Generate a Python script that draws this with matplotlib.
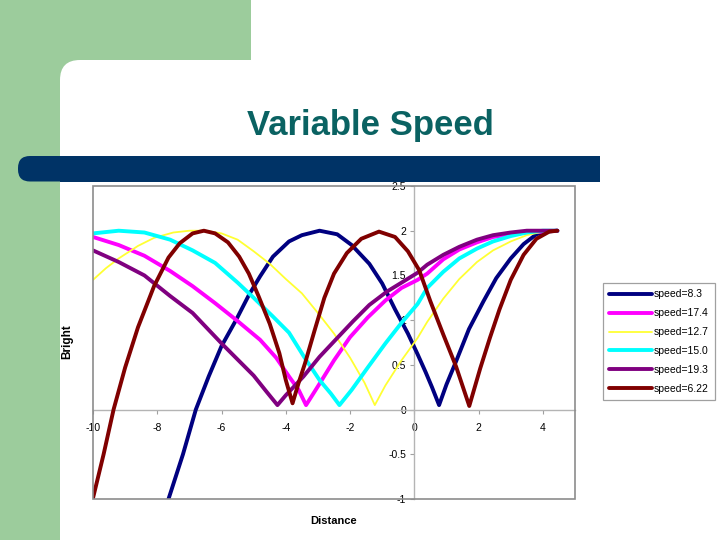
import matplotlib
matplotlib.use("Agg")
import matplotlib.pyplot as plt
from matplotlib.patches import Rectangle, FancyBboxPatch

plt.rcParams['font.family'] = ['Liberation Sans', 'DejaVu Sans']

# ---------------- data ----------------
labels = ["speed=8.3", "speed=17.4", "speed=12.7", "speed=15.0", "speed=19.3", "speed=6.22"]
colors = ["#000080", "#FF00FF", "#FFFF33", "#00FFFF", "#800080", "#800000"]
widths = [2.8, 2.8, 1.3, 2.8, 2.8, 2.8]

navy_x = [-7.65, -7.2, -6.8, -6.4, -6.0, -5.55, -5.15, -4.8, -4.4, -3.9, -3.5, -2.95, -2.4, -1.95,
          -1.4, -1.0, -0.6, -0.2, 0.1, 0.35, 0.55, 0.77, 1.0, 1.3, 1.7, 2.15, 2.55, 3.0, 3.4, 3.8, 4.1, 4.45]
navy_y = [-1.0, -0.5, 0.0, 0.37, 0.71, 1.0, 1.28, 1.49, 1.71, 1.88, 1.95, 2.0, 1.96, 1.84,
          1.63, 1.41, 1.12, 0.85, 0.62, 0.42, 0.25, 0.05, 0.28, 0.54, 0.9, 1.21, 1.47, 1.69, 1.85, 1.96, 1.99, 2.0]

magenta_x = [-10.0, -9.2, -8.4, -7.6, -6.9, -6.2, -5.5, -4.8, -4.3, -3.9, -3.6, -3.37, -3.0, -2.5,
             -2.0, -1.45, -0.9, -0.4, 0.1, 0.4, 0.9, 1.4, 1.95, 2.45, 3.0, 3.5, 4.0, 4.45]
magenta_y = [1.93, 1.84, 1.72, 1.55, 1.38, 1.19, 0.99, 0.78, 0.58, 0.37, 0.22, 0.05, 0.26, 0.55,
             0.81, 1.03, 1.22, 1.36, 1.45, 1.52, 1.68, 1.79, 1.87, 1.93, 1.96, 1.98, 1.99, 2.0]

yellow_x = [-10.0, -9.6, -9.2, -8.6, -8.1, -7.5, -7.0, -6.5, -6.0, -5.5, -5.0, -4.5, -4.0, -3.5, -3.0,
            -2.5, -2.0, -1.55, -1.23, -0.9, -0.4, 0.1, 0.4, 0.9, 1.4, 1.95, 2.45, 3.0, 3.5, 4.0, 4.45]
yellow_y = [1.45, 1.58, 1.69, 1.83, 1.92, 1.98, 2.0, 2.0, 1.97, 1.9, 1.77, 1.63, 1.46, 1.3, 1.08,
            0.85, 0.58, 0.3, 0.05, 0.27, 0.55, 0.8, 0.98, 1.24, 1.46, 1.65, 1.78, 1.88, 1.95, 1.99, 2.0]

cyan_x = [-10.0, -9.2, -8.4, -7.6, -6.9, -6.2, -5.5, -5.0, -4.4, -3.9, -3.45, -2.95, -2.6, -2.33,
          -1.95, -1.45, -0.9, -0.4, 0.1, 0.4, 0.9, 1.4, 1.95, 2.45, 3.0, 3.5, 4.0, 4.45]
cyan_y = [1.97, 2.0, 1.98, 1.9, 1.78, 1.64, 1.42, 1.25, 1.04, 0.86, 0.6, 0.33, 0.18, 0.05,
          0.22, 0.47, 0.74, 0.97, 1.18, 1.36, 1.54, 1.69, 1.8, 1.88, 1.94, 1.98, 2.0, 2.0]

purple_x = [-10.0, -9.2, -8.4, -7.6, -6.9, -6.0, -5.0, -4.6, -4.26, -4.0, -3.45, -2.95, -2.4, -1.9,
            -1.4, -0.85, -0.35, 0.1, 0.4, 0.9, 1.4, 1.95, 2.45, 3.0, 3.5, 4.0, 4.45]
purple_y = [1.78, 1.65, 1.5, 1.27, 1.08, 0.74, 0.38, 0.2, 0.05, 0.16, 0.37, 0.59, 0.8, 0.99,
            1.17, 1.32, 1.43, 1.53, 1.62, 1.73, 1.82, 1.9, 1.95, 1.98, 2.0, 2.0, 2.0]

darkred_x = [-10.0, -9.67, -9.36, -9.0, -8.6, -8.1, -7.65, -7.3, -6.9, -6.55, -6.2, -5.8, -5.45, -5.15,
             -4.85, -4.5, -4.2, -4.0, -3.79, -3.6, -3.4, -3.1, -2.8, -2.5, -2.1, -1.65, -1.1, -0.6,
             -0.2, 0.15, 0.5, 0.9, 1.3, 1.71, 2.05, 2.35, 2.65, 3.0, 3.4, 3.8, 4.2, 4.45]
darkred_y = [-0.99, -0.5, 0.0, 0.47, 0.92, 1.38, 1.7, 1.86, 1.97, 2.0, 1.97, 1.87, 1.71, 1.52,
             1.27, 0.96, 0.63, 0.33, 0.07, 0.3, 0.52, 0.89, 1.25, 1.52, 1.75, 1.91, 1.99, 1.93,
             1.77, 1.56, 1.21, 0.84, 0.48, 0.04, 0.46, 0.8, 1.12, 1.45, 1.73, 1.91, 1.99, 2.0]

series_x = [navy_x, magenta_x, yellow_x, cyan_x, purple_x, darkred_x]
series_y = [navy_y, magenta_y, yellow_y, cyan_y, purple_y, darkred_y]

x_ticks = [-10, -8, -6, -4, -2, 0, 2, 4]
y_ticks = [-1, -0.5, 0, 0.5, 1, 1.5, 2, 2.5]
y_ticklabels = ["-1", "-0.5", "0", "0.5", "1", "1.5", "2", "2.5"]

# ---------------- figure / slide background ----------------
W, H = 720, 540
fig = plt.figure(figsize=(7.2, 5.4), dpi=100)
bg = fig.add_axes([0, 0, 1, 1], zorder=0)
bg.set_xlim(0, W)
bg.set_ylim(H, 0)
bg.axis("off")

green = "#9CCC9C"
bg.add_patch(Rectangle((0, 0), 251, H, facecolor=green, edgecolor="none"))
bg.add_patch(FancyBboxPatch((60, 60), 720, 540, boxstyle="round,pad=0,rounding_size=20",
                            facecolor="white", edgecolor="none"))
bar_col = "#003366"
bg.add_patch(FancyBboxPatch((18, 156), 582, 25.5, boxstyle="round,pad=0,rounding_size=12",
                            facecolor=bar_col, edgecolor="none"))
bg.add_patch(Rectangle((60, 156), 540, 25.5, facecolor=bar_col, edgecolor="none"))

bg.text(370, 135, "Variable Speed", fontsize=25, fontweight="bold", color="#0A6262",
        ha="center", va="baseline")

# ---------------- chart ----------------
L, R, T, B = 93, 575, 186, 499
ax = fig.add_axes([L / W, 1 - B / H, (R - L) / W, (B - T) / H], zorder=1)
ax.set_facecolor("white")

handles = []
for xs, ys, c, lw, lab in zip(series_x, series_y, colors, widths, labels):
    h, = ax.plot(xs, ys, color=c, lw=lw, label=lab, solid_joinstyle="round",
                 solid_capstyle="round", zorder=3)
    handles.append(h)

ax.set_xlim(-10, 5)
ax.set_ylim(-1, 2.5)
ax.set_axisbelow(True)

for s in ["top", "right"]:
    ax.spines[s].set_visible(False)
ax.spines["left"].set_position(("data", 0))
ax.spines["bottom"].set_position(("data", 0))
for s in ["left", "bottom"]:
    ax.spines[s].set_color("#B4B4B4")
    ax.spines[s].set_linewidth(1.0)
    ax.spines[s].set_zorder(1)

ax.add_patch(Rectangle((0, 0), 1, 1, transform=ax.transAxes, fill=False,
                       edgecolor="#8C8C8C", lw=1.2, clip_on=False, zorder=4))

ax.set_xticks(x_ticks)
ax.set_xticklabels([str(v) for v in x_ticks])
ax.set_yticks(y_ticks)
ax.set_yticklabels(y_ticklabels)
ax.tick_params(axis="both", direction="out", length=3, width=0.8, color="#A0A0A0",
               labelsize=7.5, pad=3)
ax.tick_params(axis="x", pad=7)
for t in ax.get_xticklabels() + ax.get_yticklabels():
    t.set_zorder(0.5)

ax.text(0.5, -0.07, "Distance", transform=ax.transAxes, fontsize=8, fontweight="bold",
        ha="center", va="center")
fig.text(67 / W, 1 - 342 / H, "Bright", rotation=90, fontsize=8.5, fontweight="bold",
         ha="center", va="center")

leg = fig.legend(handles=handles, labels=labels, loc="upper left",
                 bbox_to_anchor=(603 / W, 1 - 283 / H), bbox_transform=fig.transFigure,
                 fontsize=7.5, handlelength=4.1, handletextpad=0.15, labelspacing=0.86,
                 borderpad=0.6, borderaxespad=0, fancybox=False, framealpha=1)
leg.get_frame().set_edgecolor("#A0A0A0")
leg.get_frame().set_linewidth(0.9)

fig.savefig("out.png", dpi=100)
